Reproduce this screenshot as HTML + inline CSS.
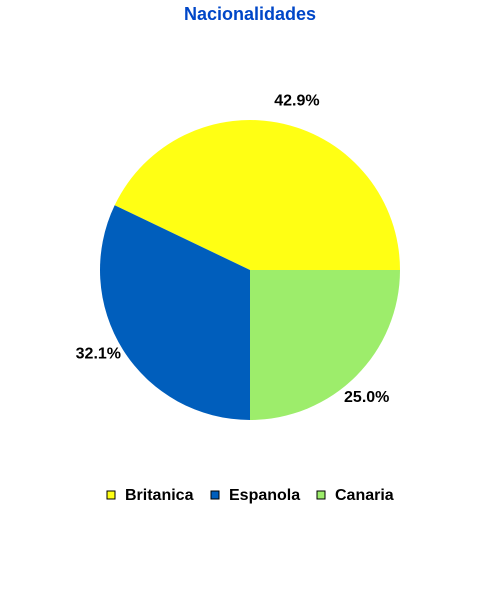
<!DOCTYPE html>
<html><head><meta charset="utf-8"><style>
html,body{margin:0;padding:0;background:#fff;}
svg{display:block;font-family:"Liberation Sans",Arial,sans-serif;}
</style></head><body>
<svg id="chart" width="500" height="600">
<text x="250" y="20" text-anchor="middle" font-size="18" font-weight="bold" fill="#0047c8">Nacionalidades</text>
<g id="slices"></g>
<g id="labels"></g>
<g id="legend"></g>
</svg>
<script>
const categories = ["Britanica", "Espanola", "Canaria"];
const values = [42.9, 32.1, 25.0];
const colors = ["#ffff14", "#005ebc", "#9ded6b"];
const valueLabels = ["42.9%", "32.1%", "25.0%"];

const NS = "http://www.w3.org/2000/svg";
const cx = 250, cy = 270, r = 150;
const total = values.reduce((a, b) => a + b, 0);
const gS = document.getElementById("slices");
const gL = document.getElementById("labels");
const gLeg = document.getElementById("legend");
let start = 0;
values.forEach((v, i) => {
  const sweep = v / total * 2 * Math.PI;
  const a0 = start, a1 = start + sweep;
  const x0 = cx + r * Math.cos(a0), y0 = cy - r * Math.sin(a0);
  const x1 = cx + r * Math.cos(a1), y1 = cy - r * Math.sin(a1);
  const large = sweep > Math.PI ? 1 : 0;
  const p = document.createElementNS(NS, "path");
  p.setAttribute("d", `M${cx},${cy} L${x0},${y0} A${r},${r} 0 ${large} 0 ${x1},${y1} Z`);
  p.setAttribute("fill", colors[i]);
  
  
  gS.appendChild(p);
  const mid = (a0 + a1) / 2 - 0.05, lr = r + 24;
  const t = document.createElementNS(NS, "text");
  t.setAttribute("x", cx + lr * Math.cos(mid));
  t.setAttribute("y", cy - lr * Math.sin(mid) + 3);
  t.setAttribute("text-anchor", "middle");
  t.setAttribute("font-size", "16");
  t.setAttribute("font-weight", "bold");
  t.textContent = valueLabels[i];
  
  
  gL.appendChild(t);
  start = a1;
});
const legX = [107, 211, 317];
categories.forEach((c, i) => {
  const g = document.createElementNS(NS, "g");
  
  
  const rc = document.createElementNS(NS, "rect");
  rc.setAttribute("x", legX[i]); rc.setAttribute("y", 491);
  rc.setAttribute("width", 8); rc.setAttribute("height", 8);
  rc.setAttribute("fill", colors[i]); rc.setAttribute("stroke", "#000"); rc.setAttribute("stroke-width", "1");
  g.appendChild(rc);
  const t = document.createElementNS(NS, "text");
  t.setAttribute("x", legX[i] + 18); t.setAttribute("y", 500);
  t.setAttribute("font-size", "16"); t.setAttribute("font-weight", "bold");
  t.textContent = c;
  g.appendChild(t);
  gLeg.appendChild(g);
});
</script>
</body></html>
